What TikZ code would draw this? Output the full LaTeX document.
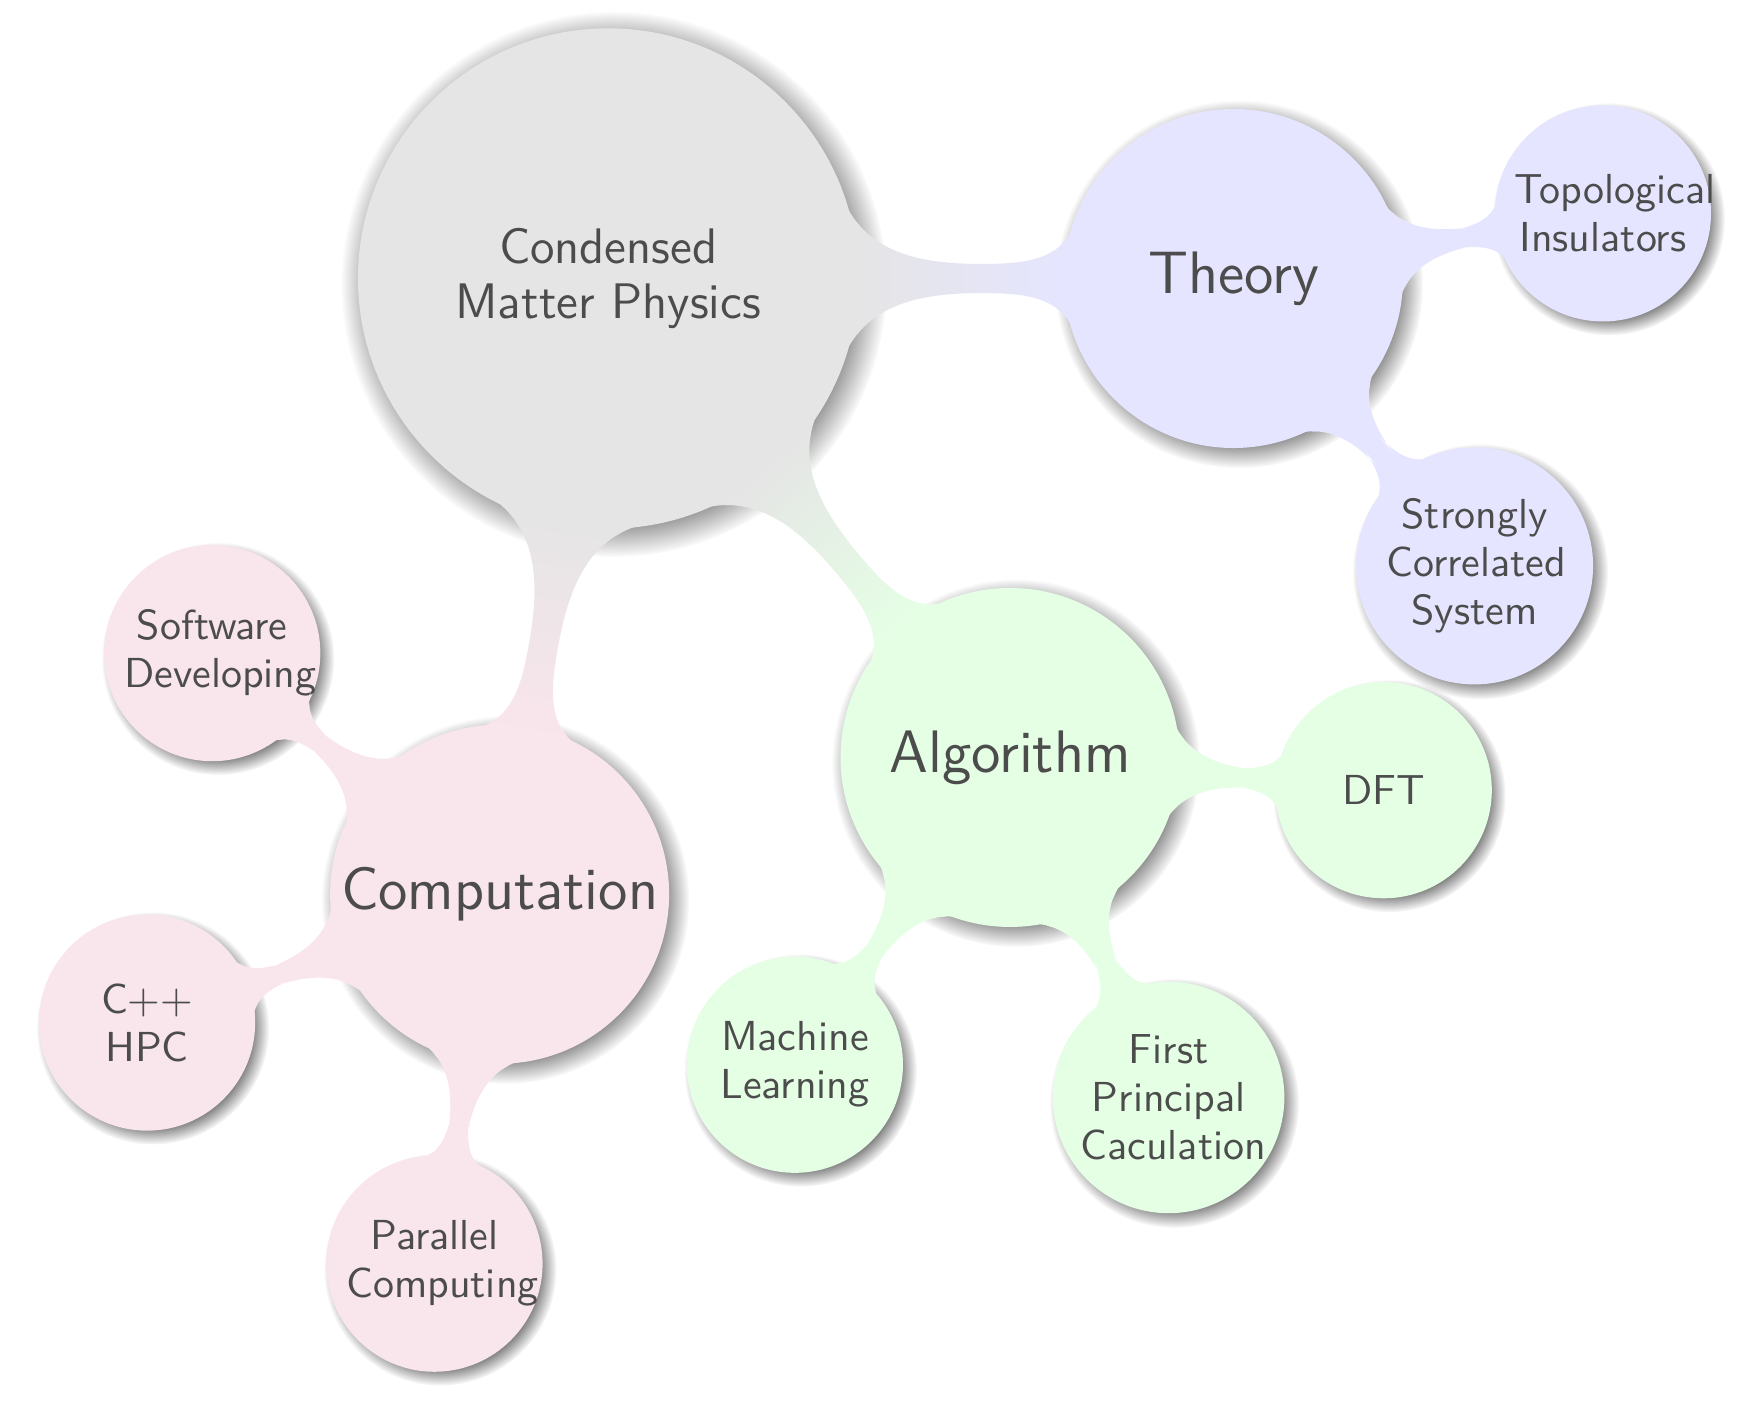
\documentclass[tikz,border=0pt]{standalone}
\usetikzlibrary{mindmap,shadows}
\hyphenpenalty=10000
\tikzset{
  core/.style={concept, circular drop shadow, minimum size=4.36cm, text width=3.6cm, font=\sffamily\fontsize{12.5}{14}\selectfont},
  branch/.style={concept, circular drop shadow, minimum size=2.94cm, text width=2.8cm, font=\sffamily\fontsize{15}{18}\selectfont},
  leaf/.style={concept, circular drop shadow, minimum size=1.86cm, text width=1.55cm, font=\sffamily\fontsize{10.5}{12}\selectfont},
}
\begin{document}
\begin{tikzpicture}[mindmap, text=black!70]
                \useasboundingbox (-5.35,2.45) rectangle (10,-9.94);
                \node[concept color=black!10, core] (cmp) at (0,0) {Condensed\\Matter Physics};
                \node[concept color=blue!10, branch] (theory) at (5.5,0) {Theory};
                \node[concept color=green!10, branch] (algo) at (3.535,-4.213) {Algorithm};
                \node[concept color=purple!10, branch] (comp) at (-.955,-5.416) {Computation};
                \node[concept color=blue!10, leaf] (topo) at (8.75,.573) {Topological\\Insulators};
                \node[concept color=blue!10, leaf] (strong) at (7.621,-2.528) {Strongly\\Correlated\\System};
                \node[concept color=green!10, leaf] (dft) at (6.822,-4.501) {DFT};
                \node[concept color=green!10, leaf] (first) at (4.93,-7.204) {First\\Principal\\Caculation};
                \node[concept color=green!10, leaf] (ml) at (1.642,-6.916) {Machine\\Learning};
                \node[concept color=purple!10, leaf] (soft) at (-3.483,-3.295) {Software\\Developing};
                \node[concept color=purple!10, leaf] (cpp) at (-4.056,-6.545) {C++\\HPC};
                \node[concept color=purple!10, leaf] (par) at (-1.528,-8.666) {Parallel\\Computing};
                \path (cmp) to[circle connection bar switch color=from (black!10) to (blue!10)] (theory);
                \path (cmp) to[circle connection bar switch color=from (black!10) to (green!10)] (algo);
                \path (cmp) to[circle connection bar switch color=from (black!10) to (purple!10)] (comp);
                \path (theory) to[circle connection bar switch color=from (blue!10) to (blue!10)] (topo);
                \path (theory) to[circle connection bar switch color=from (blue!10) to (blue!10)] (strong);
                \path (algo) to[circle connection bar switch color=from (green!10) to (green!10)] (dft);
                \path (algo) to[circle connection bar switch color=from (green!10) to (green!10)] (first);
                \path (algo) to[circle connection bar switch color=from (green!10) to (green!10)] (ml);
                \path (comp) to[circle connection bar switch color=from (purple!10) to (purple!10)] (soft);
                \path (comp) to[circle connection bar switch color=from (purple!10) to (purple!10)] (cpp);
                \path (comp) to[circle connection bar switch color=from (purple!10) to (purple!10)] (par);
            \end{tikzpicture}
\end{document}
